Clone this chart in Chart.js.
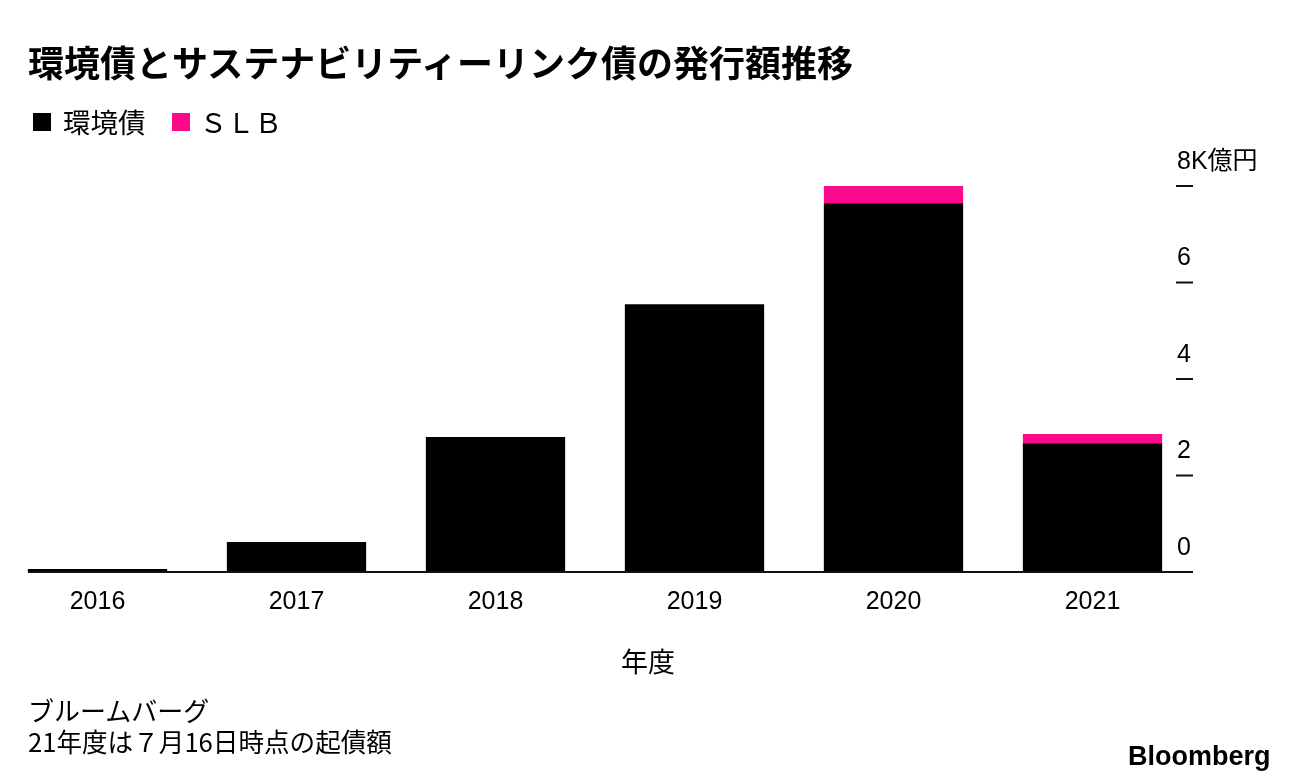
<!DOCTYPE html>
<html>
<head>
<meta charset="utf-8">
<script src="https://cdn.jsdelivr.net/npm/chart.js@4/dist/chart.umd.min.js"></script>
<style>
  html, body { margin: 0; padding: 0; background: #fff; }
  body { width: 1296px; height: 780px; position: relative; overflow: hidden;
         font-family: "Noto Sans CJK JP", "Liberation Sans", sans-serif; color: #000; }
  #wrap { position: absolute; left: -2px; top: 0; width: 1298px; height: 780px; }
  .t { position: absolute; white-space: nowrap; line-height: 1; }
  #title { left: 28px; top: 43px; font-size: 36px; font-weight: 700; }
  #legend { left: 33px; top: 108px; font-size: 27.5px; display: flex; align-items: center; }
  .sw { display: inline-block; width: 18px; height: 18px; margin-right: 10px; }
  #xtitle { left: 0; width: 1296px; text-align: center; top: 647px; font-size: 27px; }
  #src1 { left: 28px; top: 697px; font-size: 26px; }
  #src2 { left: 28px; top: 728px; font-size: 25.6px; }
  #logo { left: 1128px; top: 743px; font-size: 27px; font-weight: 700;
          font-family: "Liberation Sans", Arial, sans-serif; }
</style>
</head>
<body>
<div id="wrap"><canvas id="c" width="1298" height="780"></canvas></div>
<div class="t" id="title">環境債とサステナビリティーリンク債の発行額推移</div>
<div class="t" id="legend"><span class="sw" style="background:#000;margin-right:12px"></span><span>環境債</span><span class="sw" style="background:#fc0a8c;margin-left:26px"></span><span>ＳＬＢ</span></div>
<div class="t" id="xtitle">年度</div>
<div class="t" id="src1">ブルームバーグ</div>
<div class="t" id="src2">21年度は７月16日時点の起債額</div>
<div class="t" id="logo">Bloomberg</div>
<script>
const years = ['2016', '2017', '2018', '2019', '2020', '2021'];
const greenBonds = [0.06, 0.62, 2.80, 5.55, 7.64, 2.67];
const slbBonds = [0, 0, 0, 0, 0.36, 0.19];
const yTickValues = [0, 2, 4, 6, 8];
const yTickLabels = ['0', '2', '4', '6', '8K億円'];

const axisMarks = {
  id: 'axisMarks',
  afterDatasetsDraw(chart) {
    const ctx = chart.ctx;
    const y = chart.scales.y;
    const ca = chart.chartArea;
    ctx.save();
    ctx.strokeStyle = '#111';
    ctx.lineWidth = 2;
    // baseline
    const y0 = y.getPixelForValue(0);
    ctx.beginPath();
    ctx.moveTo(30, y0);
    ctx.lineTo(ca.right + 1, y0);
    ctx.stroke();
    // tick marks and labels
    ctx.fillStyle = '#000';
    ctx.font = '25px "Liberation Sans", "Noto Sans CJK JP", sans-serif';
    ctx.textAlign = 'left';
    ctx.textBaseline = 'middle';
    yTickValues.forEach((v, i) => {
      const py = y.getPixelForValue(v);
      if (v !== 0) {
        ctx.beginPath();
        ctx.moveTo(ca.right - 16, py);
        ctx.lineTo(ca.right + 1, py);
        ctx.stroke();
      }
      ctx.fillText(yTickLabels[i], ca.right - 15, py - 24);
    });
    ctx.restore();
  }
};

new Chart(document.getElementById('c'), {
  type: 'bar',
  data: {
    labels: years,
    datasets: [
      { label: '環境債', data: greenBonds, backgroundColor: '#000000', borderWidth: 0 },
      { label: 'ＳＬＢ', data: slbBonds, backgroundColor: '#fc0a8c', borderWidth: 0 }
    ]
  },
  options: {
    responsive: false,
    animation: false,
    devicePixelRatio: 1,
    layout: { padding: { top: 186, left: 0, right: 104, bottom: 148 } },
    plugins: { legend: { display: false }, tooltip: { enabled: false } },
    datasets: { bar: { barPercentage: 0.7, categoryPercentage: 1.0 } },
    scales: {
      x: {
        stacked: true,
        grid: { display: false, drawTicks: false },
        border: { display: false },
        ticks: {
          padding: 15,
          color: '#000',
          font: { family: '"Liberation Sans", Arial, sans-serif', size: 25 },
          maxRotation: 0, autoSkip: false
        }
      },
      y: {
        display: false,
        stacked: true,
        min: 0, max: 8
      }
    }
  },
  plugins: [axisMarks]
});
</script>
</body>
</html>
